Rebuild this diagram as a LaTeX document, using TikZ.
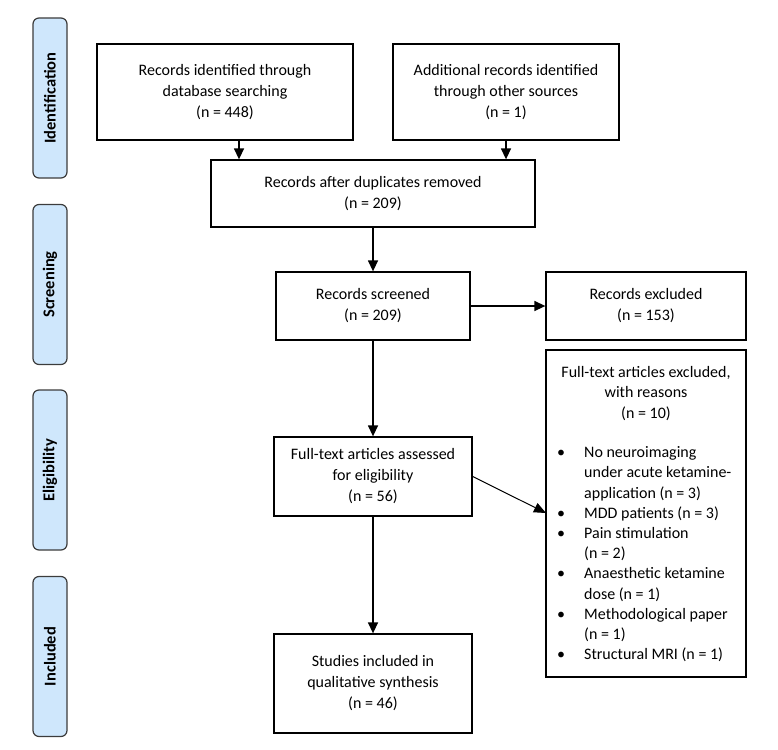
\documentclass[tikz,border=0pt]{standalone}
\usepackage{fontspec}
\setmainfont{Carlito}
\usetikzlibrary{arrows.meta}
\definecolor{phasefill}{RGB}{207,231,252}
\definecolor{phaseedge}{RGB}{60,60,60}
\begin{document}
\begin{tikzpicture}[x=1pt,y=-1pt,
  box/.style={draw=black,line width=1.3pt,align=center,inner sep=0pt,
    font=\fontsize{16}{21}\selectfont},
  phase/.style={draw=phaseedge,fill=phasefill,line width=1.2pt,rounded corners=6pt,
    rotate=90,minimum width=160pt,minimum height=34pt,inner sep=0pt,
    font=\fontsize{16.5}{20}\selectfont\bfseries},
  arr/.style={line width=1.4pt,-{Triangle[length=11pt,width=10pt]}}]
\useasboundingbox (0,0) rectangle (778,749);
% phase labels
\node[phase] (pid) at (50,98) {Identification};
\node[phase] (psc) at (50,284.5) {Screening};
\node[phase] (pel) at (50,470) {Eligibility};
\node[phase] (pin) at (50,656.5) {Included};
% boxes
\node[box,minimum width=256pt,minimum height=96pt] (db) at (225,92)
  {Records identified through\\database searching\\(n = 448)};
\node[box,minimum width=226pt,minimum height=96pt] (other) at (506,92)
  {Additional records identified\\through other sources\\(n = 1)};
\node[box,minimum width=324pt,minimum height=67pt] (dup) at (373,193.5)
  {Records after duplicates removed\\(n = 209)};
\node[box,minimum width=194pt,minimum height=68pt] (scr) at (373,306)
  {Records screened\\(n = 209)};
\node[box,minimum width=200pt,minimum height=68pt] (exc) at (646,306)
  {Records excluded\\(n = 153)};
\node[box,minimum width=198pt,minimum height=79pt] (ft) at (373,476.5)
  {Full-text articles assessed\\for eligibility\\(n = 56)};
\node[box,minimum width=198pt,minimum height=99pt] (inc) at (373,683.5)
  {Studies included in\\qualitative synthesis\\(n = 46)};
\node[box,minimum width=200pt,minimum height=327pt] (ftx) at (646,513.5) {};
\node[anchor=north,align=center,inner sep=0pt,font=\fontsize{16}{20.5}\selectfont]
  (ftxh) at (646,366) {Full-text articles excluded,\\with reasons\\(n = 10)};
\node[anchor=north west,align=left,inner sep=0pt,font=\fontsize{16}{20.2}\selectfont]
  (ftxl) at (557,446.5) {%
  \makebox[27pt][l]{\textbullet}No neuroimaging\\
  \hspace*{27pt}under acute ketamine-\\
  \hspace*{27pt}application (n = 3)\\
  \makebox[27pt][l]{\textbullet}MDD patients (n = 3)\\
  \makebox[27pt][l]{\textbullet}Pain stimulation\\
  \hspace*{27pt}(n = 2)\\
  \makebox[27pt][l]{\textbullet}Anaesthetic ketamine\\
  \hspace*{27pt}dose (n = 1)\\
  \makebox[27pt][l]{\textbullet}Methodological paper\\
  \hspace*{27pt}(n = 1)\\
  \makebox[27pt][l]{\textbullet}Structural MRI (n = 1)};
% connectors
\draw[arr] (db.south -| 239,0) -- (dup.north -| 239,0);
\draw[arr] (other.south) -- (dup.north -| other.south);
\draw[arr] (dup.south) -- (scr.north);
\draw[arr] (scr.east) -- (exc.west);
\draw[arr] (scr.south) -- (scr.south |- ft.north);
\coordinate (ftin) at (546,513);
\draw[line width=1pt,-{Triangle[length=12pt,width=10pt]}] (ft.east) -- (ftin);
\draw[arr] (ft.south) -- (inc.north);
\end{tikzpicture}
\end{document}
